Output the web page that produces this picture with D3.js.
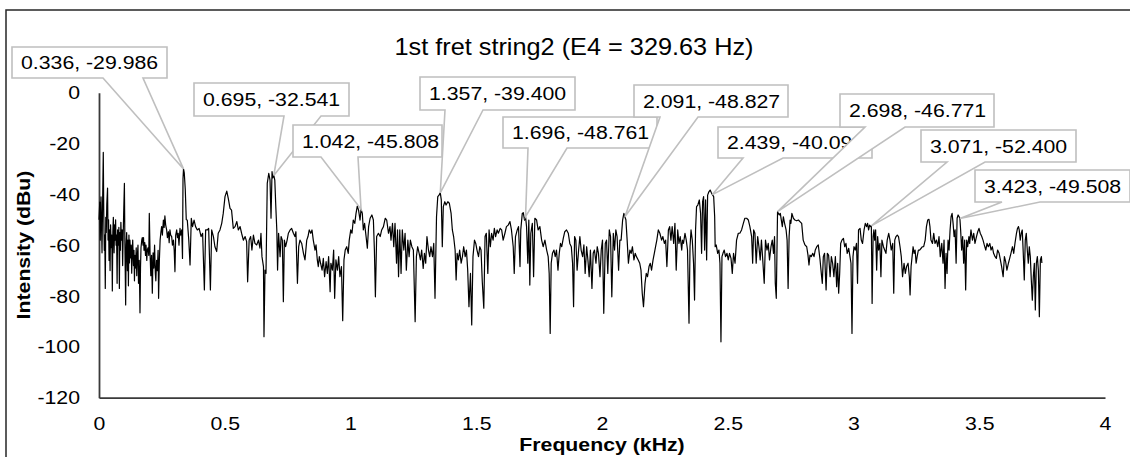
<!DOCTYPE html>
<html>
<head>
<meta charset="utf-8">
<script src="https://cdn.jsdelivr.net/npm/d3@7"></script>
<style>
body { margin: 0; background: #fff; }
svg { display: block; font-family: "Liberation Sans", Arial, sans-serif; }
</style>
</head>
<body>
<div id="chart"></div>
<script>

// spectrum: [frequency kHz, intensity dBu]
var band0to1 = [
[0.000,-50],[0.003,-43],[0.005,-58],[0.008,-41],[0.010,-52],[0.012,-63],[0.014,-46],[0.017,-23.5],[0.019,-48],[0.021,-62],
[0.023,-56],[0.025,-77],[0.027,-49],[0.029,-55],[0.031,-44],[0.034,-37.5],[0.036,-58],[0.038,-50],[0.040,-66],[0.042,-54],
[0.044,-70],[0.046,-52],[0.049,-61],[0.051,-56],[0.053,-78],[0.055,-55],[0.057,-49],[0.060,-63],[0.062,-52],[0.064,-58],
[0.066,-50],[0.068,-60],[0.070,-56],[0.072,-75],[0.074,-54],[0.077,-60],[0.079,-53],[0.081,-77],[0.083,-55],[0.085,-62],
[0.087,-51],[0.089,-58],[0.092,-54],[0.094,-68],[0.096,-57],[0.098,-48],[0.101,-35.7],[0.103,-60],[0.106,-83.5],[0.108,-60],
[0.110,-55],[0.113,-70],[0.115,-58],[0.117,-76],[0.119,-56],[0.121,-67],[0.123,-58],[0.126,-65],[0.128,-60],[0.130,-71],
[0.132,-63],[0.134,-58],[0.137,-68],[0.139,-62],[0.141,-74],[0.143,-64],[0.145,-69],[0.148,-61],[0.150,-72],[0.152,-65],
[0.155,-60],[0.157,-75],[0.160,-66],[0.163,-86.6],[0.165,-69],[0.167,-61],[0.170,-58],[0.172,-57],[0.175,-60],[0.177,-57],
[0.179,-62],[0.182,-59],[0.185,-64],[0.187,-60],[0.190,-66],[0.192,-62],[0.195,-61],[0.198,-64],[0.200,-47.5],[0.203,-63],
[0.206,-72],[0.209,-64],[0.212,-78.9],[0.215,-63],[0.218,-69],[0.221,-60],[0.224,-71],[0.226,-74],[0.229,-66],[0.232,-70],
[0.235,-62],[0.237,-80.9],[0.240,-66],[0.243,-58],[0.246,-55],[0.249,-52.7],[0.252,-56],[0.256,-50.1],[0.259,-53],[0.262,-48.5],
[0.265,-52],[0.269,-54],[0.272,-57],[0.276,-54.7],[0.279,-59],[0.282,-54],[0.285,-56],[0.289,-56.6],[0.292,-60],[0.296,-58],
[0.299,-62],[0.302,-70.4],[0.305,-56],[0.309,-54],[0.312,-57],[0.315,-55.3],[0.318,-60],[0.322,-53.4],[0.325,-56],[0.329,-54],
[0.332,-65.2],[0.334,-34],[0.336,-29.986],[0.339,-31.5],[0.343,-38],[0.347,-50],[0.351,-50.1],[0.357,-58],[0.362,-67.8],[0.367,-49.4],
[0.372,-52.7],[0.378,-50.1],[0.384,-52.7],[0.391,-54],[0.398,-53.4],[0.406,-56.6],[0.412,-55.3],[0.419,-77.6],[0.424,-54],[0.431,-54],
[0.436,-53.4],[0.443,-77.6],[0.448,-54],[0.455,-56.6],[0.461,-60.6],[0.468,-62.5],[0.474,-55.3],[0.481,-54],[0.488,-51.4],[0.494,-47.5],
[0.501,-40.9],[0.508,-38.7],[0.514,-41.6],[0.521,-45.5],[0.527,-46.2],[0.534,-53.4],[0.541,-52.7],[0.548,-50.7],[0.554,-54],[0.561,-52.7],
[0.567,-55.3],[0.574,-58],[0.581,-56.6],[0.587,-58.6],[0.591,-74.4],[0.597,-58],[0.603,-56.6],[0.608,-61.9],[0.614,-56],[0.620,-59.3],
[0.627,-59.9],[0.634,-58],[0.640,-61.2],[0.644,-55.3],[0.648,-64.5],[0.654,-68.4],[0.656,-96],[0.660,-69.8],[0.664,-71.1],[0.669,-35.7],
[0.675,-31.7],[0.680,-34.4],[0.684,-49.4],[0.688,-31],[0.691,-33.5],[0.695,-32.541],[0.699,-34.4],[0.703,-44.8],[0.707,-54],[0.710,-69.8],
[0.714,-55.3],[0.720,-64.5],[0.724,-56.6],[0.729,-58],[0.733,-82.2],[0.737,-58],[0.742,-60.6],[0.748,-58],[0.753,-55.3],[0.760,-54],
[0.766,-53.4],[0.773,-55.3],[0.779,-56.6],[0.783,-54.7],[0.789,-75],[0.794,-60.6],[0.799,-58],[0.806,-59.3],[0.813,-63.2],[0.819,-65.8],
[0.826,-58],[0.831,-56.6],[0.836,-54],[0.842,-55.3],[0.847,-54],[0.852,-58],[0.859,-61.9],[0.863,-59.9],[0.868,-65.8],[0.872,-68.4],
[0.876,-64.5],[0.881,-67.1],[0.887,-69.8],[0.892,-65.2],[0.897,-72.4],[0.903,-66.5],[0.908,-71.1],[0.913,-64.5],[0.919,-78.3],[0.922,-67.1],
[0.928,-69.8],[0.933,-61.9],[0.937,-80.9],[0.942,-65.8],[0.948,-69.8],[0.953,-64.5],[0.958,-72.4],[0.964,-68.4],[0.969,-89.7],[0.974,-65.8],
[0.979,-61.9],[0.985,-60.6],[0.991,-63.2],[0.995,-58]
];

var band1to2 = [
[1.001,-54],[1.006,-55.3],[1.011,-50.1],[1.017,-51.4],[1.022,-47.5],[1.027,-44.6],[1.032,-46.2],[1.038,-50.1],[1.042,-45.808],[1.047,-47.5],
[1.051,-54],[1.056,-51.4],[1.062,-56.6],[1.067,-61.2],[1.072,-52.7],[1.078,-49.4],[1.085,-48.1],[1.091,-50.1],[1.095,-61.9],[1.099,-80.3],
[1.104,-56.6],[1.111,-55.3],[1.118,-56.6],[1.124,-54],[1.131,-52.7],[1.138,-49.4],[1.144,-50.1],[1.151,-55.3],[1.157,-52.7],[1.161,-58],
[1.167,-51.4],[1.172,-60.6],[1.177,-51.4],[1.183,-67.1],[1.187,-54],[1.191,-72.4],[1.196,-54],[1.201,-71.1],[1.206,-54],[1.212,-61.9],
[1.217,-55.3],[1.222,-69.8],[1.228,-58],[1.233,-64.5],[1.238,-58],[1.244,-60.6],[1.250,-61.9],[1.257,-90.1],[1.262,-64.5],[1.267,-60.6],
[1.273,-63.2],[1.278,-65.8],[1.283,-61.9],[1.289,-69.1],[1.294,-63.2],[1.299,-67.1],[1.304,-56.6],[1.310,-61.9],[1.315,-64.5],[1.320,-60.6],
[1.326,-64.5],[1.331,-59.3],[1.336,-80.9],[1.342,-48.8],[1.347,-40.9],[1.352,-40.3],[1.357,-39.4],[1.361,-42.2],[1.365,-60.6],[1.369,-44.8],
[1.375,-42.9],[1.380,-44.2],[1.387,-42.9],[1.393,-43.5],[1.400,-47.5],[1.405,-54],[1.410,-56.6],[1.416,-61.9],[1.420,-73.7],[1.424,-63.2],
[1.429,-65.8],[1.434,-61.9],[1.440,-67.1],[1.445,-64.5],[1.450,-60.6],[1.456,-64.5],[1.461,-61.9],[1.466,-69.8],[1.471,-84.2],[1.477,-71.1],
[1.482,-91.4],[1.487,-64.5],[1.493,-58],[1.498,-59.3],[1.503,-61.9],[1.509,-64.5],[1.514,-60.6],[1.519,-61.9],[1.524,-74.4],[1.530,-84.8],
[1.535,-56.6],[1.540,-55.3],[1.546,-71.1],[1.551,-54],[1.556,-60.6],[1.561,-55.3],[1.567,-58],[1.572,-53.4],[1.577,-56.6],[1.583,-54],
[1.588,-55.3],[1.595,-53.4],[1.601,-54],[1.607,-58],[1.614,-55.3],[1.620,-52.7],[1.627,-52.1],[1.634,-50.7],[1.640,-54],[1.647,-60.6],
[1.651,-71.1],[1.656,-56.6],[1.663,-54],[1.668,-52.7],[1.674,-68.4],[1.677,-54],[1.683,-47.5],[1.687,-47.2],[1.692,-50.1],[1.696,-48.761],
[1.700,-52.7],[1.705,-67.1],[1.709,-50.1],[1.713,-75.7],[1.717,-55.3],[1.723,-51.4],[1.728,-72.4],[1.733,-49.4],[1.740,-50.1],[1.746,-54],
[1.753,-52.7],[1.760,-58],[1.766,-60.6],[1.773,-58],[1.780,-61.9],[1.786,-64.5],[1.790,-71.1],[1.794,-94.7],[1.798,-67.1],[1.803,-63.2],
[1.809,-61.9],[1.814,-64.5],[1.819,-61.9],[1.825,-69.8],[1.830,-63.2],[1.835,-59.3],[1.840,-60.6],[1.846,-57.3],[1.852,-54.7],[1.859,-54],
[1.866,-55.3],[1.872,-59.3],[1.878,-60.6],[1.883,-67.1],[1.887,-84.2],[1.891,-56.6],[1.896,-58],[1.901,-69.8],[1.907,-61.9],[1.912,-56.6],
[1.917,-61.9],[1.923,-64.5],[1.928,-59.9],[1.933,-71.1],[1.939,-60.6],[1.944,-65.8],[1.949,-72.4],[1.954,-61.9],[1.960,-77],[1.965,-63.2],
[1.970,-61.9],[1.976,-67.1],[1.981,-60.6],[1.986,-63.2],[1.992,-72.4],[1.997,-61.9]
];

var band2to3 = [
[2.002,-58],[2.007,-86.8],[2.013,-59.3],[2.018,-58],[2.023,-71.1],[2.029,-54],[2.034,-56.6],[2.039,-80.3],[2.045,-55.3],[2.050,-61.9],
[2.055,-54],[2.060,-56.6],[2.066,-69.8],[2.071,-58],[2.076,-58],[2.082,-50.1],[2.087,-47.5],[2.091,-48.827],[2.095,-50],[2.100,-58],
[2.105,-67.1],[2.111,-61.9],[2.116,-63.2],[2.121,-60.6],[2.127,-65.8],[2.132,-63.2],[2.137,-64.5],[2.144,-65.8],[2.150,-67.1],[2.155,-69.8],
[2.160,-78.9],[2.165,-84.2],[2.171,-75],[2.176,-71.1],[2.181,-72.4],[2.187,-68.4],[2.192,-67.1],[2.197,-69.8],[2.203,-65.8],[2.208,-63.2],
[2.213,-60.6],[2.218,-58],[2.224,-54],[2.230,-55.3],[2.237,-58],[2.242,-56.6],[2.248,-59.3],[2.253,-58],[2.258,-68.4],[2.264,-54],
[2.269,-52.7],[2.274,-58],[2.279,-52.7],[2.285,-59.3],[2.290,-51.4],[2.295,-69.8],[2.301,-54],[2.306,-59.3],[2.311,-56.6],[2.317,-61.9],
[2.320,-58],[2.324,-59.3],[2.330,-55.3],[2.335,-58],[2.340,-61.9],[2.346,-90.7],[2.350,-60.6],[2.354,-54],[2.359,-58],[2.364,-67.1],
[2.368,-81.6],[2.372,-54],[2.376,-44.8],[2.381,-44.2],[2.387,-42.2],[2.392,-47.5],[2.396,-63.2],[2.400,-42.9],[2.404,-40.9],[2.408,-61.9],
[2.412,-42.2],[2.416,-65.8],[2.420,-40.3],[2.425,-39],[2.430,-38.3],[2.434,-39.2],[2.439,-40.094],[2.444,-40.9],[2.448,-48.8],[2.450,-60.6],
[2.454,-59.9],[2.460,-63.2],[2.465,-61.9],[2.469,-67.1],[2.473,-98],[2.477,-64.5],[2.481,-63.2],[2.486,-61.9],[2.491,-64.5],[2.497,-63.2],
[2.502,-65.8],[2.507,-63.2],[2.513,-65.2],[2.518,-71.1],[2.523,-63.2],[2.529,-67.1],[2.535,-58],[2.542,-55.3],[2.548,-55.3],[2.555,-54],
[2.562,-51.4],[2.568,-49.4],[2.575,-49.4],[2.582,-50.1],[2.588,-52.7],[2.595,-56.6],[2.599,-67.1],[2.603,-54],[2.608,-55.3],[2.613,-67.1],
[2.619,-56.6],[2.624,-60.6],[2.629,-65.8],[2.634,-58],[2.640,-67.1],[2.645,-75],[2.650,-58],[2.656,-61.9],[2.661,-59.3],[2.666,-65.8],
[2.672,-60.6],[2.677,-58],[2.682,-63.2],[2.686,-56.6],[2.689,-75],[2.693,-80.9],[2.698,-46.771],[2.701,-47.5],[2.705,-48.1],[2.709,-47.5],
[2.713,-50.1],[2.717,-52.7],[2.721,-48.8],[2.726,-51.4],[2.732,-54],[2.736,-58],[2.740,-77],[2.744,-56.6],[2.748,-50.1],[2.751,-51.4],
[2.755,-47.5],[2.761,-49.4],[2.767,-50.1],[2.774,-50.4],[2.781,-50.1],[2.787,-50.7],[2.794,-51.4],[2.800,-58],[2.807,-59.9],[2.814,-60.6],
[2.819,-63.9],[2.823,-67.8],[2.827,-63.9],[2.832,-64.5],[2.838,-63.2],[2.843,-64.5],[2.848,-61.9],[2.854,-60.6],[2.860,-59.9],[2.867,-65.8],
[2.872,-71.1],[2.876,-75],[2.880,-64.5],[2.885,-63.2],[2.891,-77.6],[2.896,-63.2],[2.901,-63.9],[2.907,-72.4],[2.912,-64.5],[2.917,-67.1],
[2.922,-72.4],[2.928,-64.5],[2.933,-76.3],[2.937,-67.1],[2.941,-78.9],[2.945,-71.1],[2.949,-59.3],[2.954,-58],[2.960,-57.3],[2.965,-60.6],
[2.970,-59.3],[2.975,-63.2],[2.981,-61.2],[2.986,-64.5],[2.990,-67.1],[2.994,-94.7],[2.998,-64.5]
];

var band3to4 = [
[3.002,-60.6],[3.007,-61.9],[3.012,-59.3],[3.016,-75],[3.020,-54],[3.026,-53.4],[3.031,-58],[3.036,-59.3],[3.042,-54],[3.047,-51.4],
[3.052,-52.7],[3.056,-51.4],[3.060,-54],[3.064,-52.1],[3.068,-52.7],[3.071,-52.4],[3.074,-82.9],[3.078,-56.6],[3.081,-54],[3.084,-58],
[3.088,-54],[3.092,-69.8],[3.096,-56.6],[3.100,-61.9],[3.105,-59.3],[3.109,-72.4],[3.113,-58],[3.119,-60.6],[3.124,-61.9],[3.129,-63.2],
[3.134,-58],[3.140,-55.3],[3.145,-58],[3.150,-61.9],[3.156,-59.3],[3.160,-78.9],[3.164,-58],[3.169,-56.6],[3.174,-56],[3.179,-56.6],
[3.185,-60.6],[3.190,-64.5],[3.195,-72.4],[3.201,-67.1],[3.206,-71.1],[3.211,-68.4],[3.217,-67.1],[3.222,-72.4],[3.225,-79.6],[3.229,-68.4],
[3.233,-64.5],[3.237,-60.6],[3.241,-63.2],[3.245,-61.9],[3.249,-67.1],[3.253,-64.5],[3.258,-61.9],[3.263,-61.9],[3.269,-61.2],[3.274,-60.6],
[3.279,-60.6],[3.285,-58],[3.290,-52.7],[3.295,-50.1],[3.300,-49.8],[3.304,-52.7],[3.308,-58],[3.314,-59.3],[3.319,-55.3],[3.324,-59.3],
[3.330,-58],[3.335,-60.6],[3.340,-56.6],[3.345,-64.5],[3.351,-59.3],[3.356,-67.1],[3.360,-58],[3.364,-77],[3.368,-63.2],[3.372,-71.1],
[3.376,-58],[3.380,-61.9],[3.384,-54],[3.388,-48.8],[3.392,-47.5],[3.396,-51.4],[3.400,-56.6],[3.404,-54],[3.408,-67.1],[3.412,-49.4],
[3.416,-48.1],[3.420,-48.8],[3.423,-49.508],[3.426,-54],[3.430,-61.9],[3.434,-56.6],[3.438,-67.1],[3.442,-58],[3.446,-77.6],[3.450,-58],
[3.454,-60.6],[3.459,-56.6],[3.462,-59.3],[3.467,-54],[3.473,-58],[3.478,-55.3],[3.483,-59.3],[3.489,-56.6],[3.494,-54.7],[3.499,-53.4],
[3.504,-55.3],[3.510,-56.6],[3.515,-58],[3.520,-59.9],[3.526,-61.9],[3.531,-59.3],[3.536,-60.6],[3.542,-59.3],[3.547,-61.9],[3.552,-60.6],
[3.557,-63.2],[3.563,-64.5],[3.568,-65.2],[3.573,-61.9],[3.579,-63.2],[3.584,-65.8],[3.589,-68.4],[3.595,-72.4],[3.600,-64.5],[3.605,-66.5],
[3.610,-69.8],[3.616,-67.1],[3.621,-65.2],[3.626,-63.2],[3.632,-60.6],[3.637,-63.2],[3.642,-59.3],[3.648,-55.3],[3.652,-53.4],[3.656,-52.7],
[3.659,-54],[3.663,-58],[3.667,-55.3],[3.671,-54],[3.675,-63.2],[3.679,-73.7],[3.683,-58],[3.687,-55.3],[3.691,-61.9],[3.695,-67.1],
[3.699,-60.6],[3.703,-64.5],[3.707,-73.7],[3.711,-81.6],[3.715,-72.4],[3.719,-67.1],[3.723,-85.5],[3.727,-67.1],[3.731,-64.5],[3.735,-69.8],
[3.739,-88.1],[3.743,-65.8],[3.747,-64.5],[3.749,-67]
];

// labelled peaks
var peakFreqs = [0.336, 0.695, 1.042, 1.357, 1.696, 2.091, 2.439, 2.698, 3.071, 3.423];
var peakDbs = [-29.986, -32.541, -45.808, -39.400, -48.761, -48.827, -40.094, -46.771, -52.400, -49.508];

var xTicks = [0, 0.5, 1, 1.5, 2, 2.5, 3, 3.5, 4];
var yTicks = [0, -20, -40, -60, -80, -100, -120];

var chartTitle = "1st fret string2 (E4 = 329.63 Hz)";
var xTitle = "Frequency (kHz)";
var yTitle = "Intensity (dBu)";

// callout box placement (pixels), b1/b2 = where the pointer leaves the box
var calloutLayout = [
  {x: 12,  y: 47,  w: 155, h: 31, b1: 103,  b2: 143},
  {x: 194, y: 83,  w: 155, h: 33, b1: 284,  b2: 321},
  {x: 293, y: 125, w: 149, h: 32, b1: 321,  b2: 358},
  {x: 420, y: 77,  w: 155, h: 33, b1: 445,  b2: 483},
  {x: 503, y: 117, w: 154, h: 31, b1: 528,  b2: 567},
  {x: 634, y: 85,  w: 154, h: 32, b1: 660,  b2: 698},
  {x: 718, y: 127, w: 154, h: 31, b1: 743,  b2: 783},
  {x: 840, y: 94,  w: 154, h: 33, b1: 865,  b2: 905},
  {x: 921, y: 130, w: 155, h: 32, b1: 947,  b2: 985},
  {x: 975, y: 170, w: 155, h: 32, b1: 1002, b2: 1040}
];

var width = 1130, height = 457;
var stretch = "scale(1.12,1)";   // text in the picture is a bit wide

var svg = d3.select("#chart")
  .append("svg")
    .attr("width", width)
    .attr("height", height);

// chart border
svg.append("rect")
  .attr("x", 6).attr("y", 10)
  .attr("width", 1200).attr("height", 500)
  .attr("fill", "none")
  .attr("stroke", "#262626")
  .attr("stroke-width", 1.5);

var x = d3.scaleLinear().domain([0, 4]).range([99, 1105]);
var y = d3.scaleLinear().domain([-120, 0]).range([397.7, 92.7]);

// X axis
var gx = svg.append("g")
  .attr("transform", "translate(0," + y(-120) + ")")
  .call(d3.axisBottom(x).tickValues(xTicks).tickSize(0).tickPadding(19)
    .tickFormat(function(d) { return String(d); }));

// Y axis
var gy = svg.append("g")
  .attr("transform", "translate(" + x(0) + ",0)")
  .call(d3.axisLeft(y).tickValues(yTicks).tickSize(0).tickPadding(17)
    .tickFormat(function(d) { return String(d); }));

[gx, gy].forEach(function(g) {
  g.attr("font-family", null).attr("font-size", 19);
  g.select(".domain").attr("stroke", "#3a3a3a").attr("stroke-width", 1.8);
  g.selectAll("text").attr("fill", "#000").attr("transform", stretch);
});

// the spectrum line
var spectrum = band0to1.concat(band1to2, band2to3, band3to4);
svg.append("path")
  .datum(spectrum)
  .attr("fill", "none")
  .attr("stroke", "#000")
  .attr("stroke-width", 1.2)
  .attr("stroke-linejoin", "round")
  .attr("d", d3.line()
    .x(function(d) { return x(d[0]); })
    .y(function(d) { return y(d[1]); }));

// data callouts
peakFreqs.forEach(function(f, i) {
  var b = calloutLayout[i];
  var px = x(f), py = y(peakDbs[i]);
  var bottom = b.y + b.h;
  svg.append("path")
    .attr("d", "M" + b.x + "," + b.y + "H" + (b.x + b.w) + "V" + bottom +
               "H" + b.b2 + "L" + px + "," + py + "L" + b.b1 + "," + bottom +
               "H" + b.x + "Z")
    .attr("fill", "#fff")
    .attr("stroke", "#bfbfbf")
    .attr("stroke-width", 1.6);
  svg.append("text")
    .attr("transform", "translate(" + (b.x + 9) + "," + (b.y + b.h / 2 + 6.7) + ") " + stretch)
    .attr("font-size", 19)
    .attr("fill", "#000")
    .text(f.toFixed(3) + ", " + peakDbs[i].toFixed(3));
});

// titles
svg.append("text")
  .attr("transform", "translate(574,55) scale(1.1,1)")
  .attr("text-anchor", "middle")
  .attr("font-size", 23)
  .attr("fill", "#000")
  .text(chartTitle);

svg.append("text")
  .attr("transform", "translate(602,451) " + stretch)
  .attr("text-anchor", "middle")
  .attr("font-size", 19)
  .attr("font-weight", "bold")
  .attr("fill", "#000")
  .text(xTitle);

svg.append("text")
  .attr("transform", "translate(30,245) rotate(-90) " + stretch)
  .attr("text-anchor", "middle")
  .attr("font-size", 19)
  .attr("font-weight", "bold")
  .attr("fill", "#000")
  .text(yTitle);

</script>
</body>
</html>
